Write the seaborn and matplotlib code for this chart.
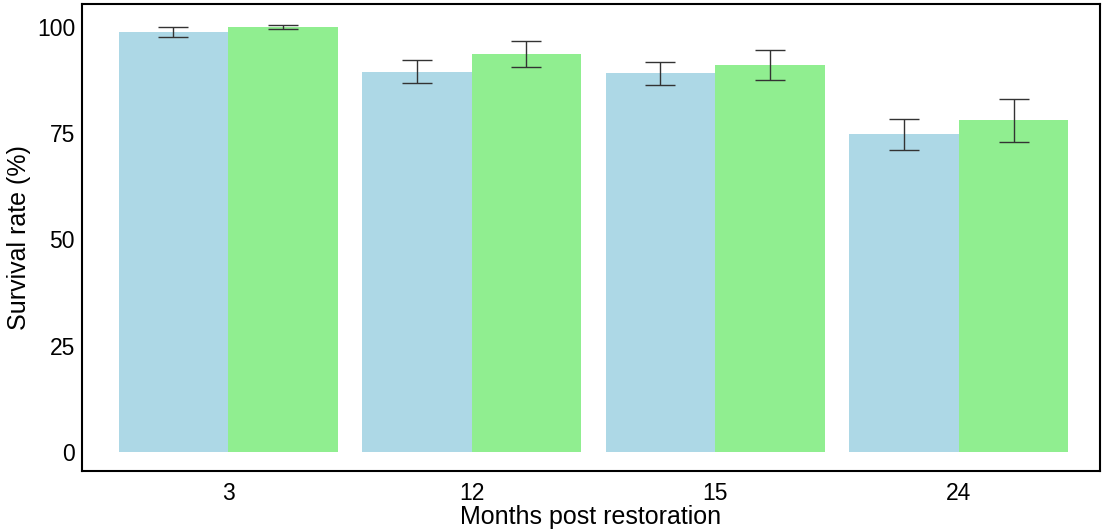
import matplotlib
matplotlib.use("Agg")
import matplotlib.pyplot as plt
import seaborn as sns
import pandas as pd

# Survival by months after restoration, two treatment groups (mean ± SE)
months = ["3", "12", "15", "24"]
groups = ["Control", "Restored"]
control_mean = [98.8, 89.5, 89.1, 74.7]
control_se = [1.2, 2.7, 2.7, 3.75]
restored_mean = [99.95, 93.7, 91.0, 78.0]
restored_se = [0.55, 3.05, 3.55, 5.05]
palette = ["#ADD8E6", "#90EE90"]

df = pd.DataFrame({
    "month": months * 2,
    "group": [groups[0]] * 4 + [groups[1]] * 4,
    "survival": control_mean + restored_mean,
    "se": control_se + restored_se,
})

sns.set_theme(style="white")
plt.rcParams["font.family"] = ["Liberation Sans", "DejaVu Sans"]

fig = plt.figure(figsize=(11.05, 5.3), dpi=100)
ax = fig.add_axes([0.0742, 0.1113, 0.9213, 0.8812])

sns.barplot(data=df, x="month", y="survival", hue="group", order=months,
            hue_order=groups, palette=palette, width=0.9, errorbar=None,
            saturation=1, legend=False, linewidth=0, ax=ax)

# error bars at the centre of each drawn bar
for container, g in zip(ax.containers, groups):
    sub = df[df["group"] == g].set_index("month").loc[months]
    xs = [p.get_x() + p.get_width() / 2 for p in container.patches]
    ax.errorbar(xs, sub["survival"].values, yerr=sub["se"].values, fmt="none",
                ecolor="#333333", elinewidth=1.0, capsize=10.8, capthick=1.0,
                zorder=3)

ax.set_xlim(-0.6, 3.58)
ax.set_ylim(-4.5, 105.4)
ax.set_yticks([0, 25, 50, 75, 100])
ax.tick_params(axis="both", length=0, labelsize=16.5, colors="black")
ax.tick_params(axis="y", pad=5)
ax.tick_params(axis="x", pad=8)
ax.set_xlabel("Months post restoration", fontsize=18, color="black", labelpad=0)
ax.set_ylabel("Survival rate (%)", fontsize=18, color="black", labelpad=4)
for s in ax.spines.values():
    s.set_visible(True)
    s.set_color("black")
    s.set_linewidth(1.5)
ax.grid(False)

fig.savefig("out.png", dpi=100)
